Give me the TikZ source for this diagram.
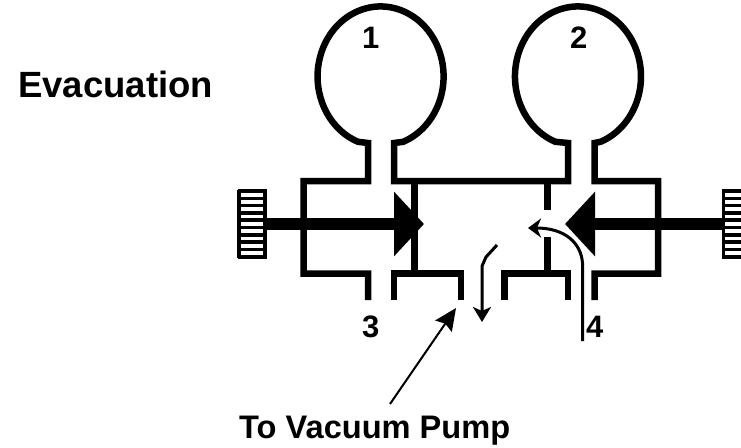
\documentclass[tikz,border=0pt]{standalone}
\usepackage{fontspec}
\setmainfont{Liberation Sans}
\usetikzlibrary{arrows.meta,calc}

\begin{document}
\begin{tikzpicture}[x=1pt, y=-1pt,
    wall/.style={line width=6.5pt, line join=miter},
    rod/.style={line width=12pt, -{Triangle[length=30pt,width=63pt]}},
    flow/.style={line width=3pt, line join=round},
    leader/.style={line width=2pt, -{Stealth[length=22pt,width=20pt,inset=3pt]}},
    knobbar/.style={line width=3.6pt},
    title/.style={inner sep=0pt, anchor=base west, font=\bfseries\fontsize{36.5}{40}\selectfont},
    numlabel/.style={inner sep=0pt, anchor=base west, font=\bfseries\fontsize{31}{34}\selectfont},
    pumplabel/.style={inner sep=0pt, anchor=base west, font=\bfseries\fontsize{32.6}{36}\selectfont}]

    \useasboundingbox (0,0) rectangle (741,447);

    \node[title] (evac) at (18,97) {Evacuation};
    \node[numlabel] (one) at (362,48) {1};
    \node[numlabel] (two) at (570,48) {2};
    \node[numlabel] (three) at (362,337) {3};
    \node[numlabel] (four) at (586,337) {4};
    \node[pumplabel] (pump) at (239,438) {To Vacuum Pump};

    % valve body with both bulbs
    \draw[wall] (368,300) -- (368,273.5) -- (303.5,273.5) -- (303.5,181) -- (368,181) -- (368,143)
        -- (358,141.8) arc[start angle=249, end angle=-69, x radius=63pt, y radius=70pt]
        -- (394,143) -- (394,181) -- (568,181) -- (568,143)
        -- (555.4,141.8) arc[start angle=249, end angle=-69, x radius=63pt, y radius=70pt]
        -- (594.5,143) -- (594.5,181) -- (658,181) -- (658,273.5) -- (594.5,273.5) -- (594.5,300);
    \draw[wall] (394,300) -- (394,273.5) -- (461,273.5) -- (461,300);
    \draw[wall] (504.5,300) -- (504.5,273.5) -- (568,273.5) -- (568,300);
    \draw[wall] (414.5,181) -- (414.5,273.5);
    \draw[wall] (547.5,181) -- (547.5,210);
    \draw[wall] (547.5,237) -- (547.5,273.5);

    % knobs
    \coordinate (knobL) at (266,224);
    \coordinate (knobR) at (723,224);
    \coordinate (tipL) at (424,224);
    \coordinate (tipR) at (565,224);
    \foreach \i in {0,...,9} {
        \draw[knobbar] (237.5,191+\i*7.3) -- (266.5,191+\i*7.3);
        \draw[knobbar] (722,191+\i*7.3) -- (741,191+\i*7.3);
    }
    \draw[line width=3.2pt] (239,189.5) -- (239,258);
    \draw[line width=3.2pt] (265,189.5) -- (265,258);
    \draw[line width=3.2pt] (723.5,189.5) -- (723.5,258);

    \draw[rod] (knobL) -- (tipL);
    \draw[rod] (knobR) -- (tipR);

    % flow arrows
    \coordinate (downstart) at (497,245);
    \coordinate (downend) at (482,322);
    \coordinate (backstart) at (582.5,341);
    \coordinate (backend) at (528,228);
    \coordinate (leaderstart) at (390,404);
    \coordinate (leaderend) at (456,308);
    \draw[flow, -{Stealth[length=15pt,width=18pt,inset=4pt]}] (downstart) -- (486,257) -- (482,266) -- (downend);
    \draw[flow, -{Stealth[length=13pt,width=19pt,inset=4pt]}] (backstart) -- (582.5,263)
        .. controls (581,243) and (565,228) .. (backend);
    \draw[leader] (leaderstart) -- (leaderend);
\end{tikzpicture}
\end{document}
